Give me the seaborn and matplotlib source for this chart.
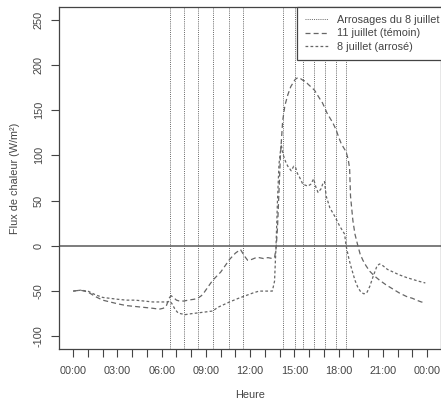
import numpy as np
import pandas as pd
import matplotlib
matplotlib.use("Agg")
import matplotlib.pyplot as plt
from matplotlib.lines import Line2D
import seaborn as sns

# ---- data (hours of day, W/m2) ----
heure_temoin = [0.0, 0.5, 1.0, 1.5, 2.0, 2.5, 3.0, 3.6, 4.2, 4.8, 5.4, 5.84, 6.1, 6.3, 6.5, 6.63, 6.8,
                7.0, 7.2, 7.5, 7.8, 8.2, 8.44, 8.7, 8.9, 9.2, 9.46, 9.7, 10.0, 10.3, 10.6, 11.0, 11.34,
                11.6, 11.83, 12.1, 12.4, 12.6, 12.9, 13.2, 13.5, 13.65, 13.76, 13.85, 13.95, 14.05, 14.2,
                14.35, 14.55, 14.75, 14.9, 15.05, 15.23, 15.4, 15.57, 15.75, 15.9, 16.1, 16.36, 16.55,
                16.7, 16.9, 17.04, 17.2, 17.38, 17.6, 17.83, 18.0, 18.17, 18.35, 18.5, 18.65, 18.74,
                18.8, 18.96, 19.1, 19.3, 19.45, 19.64, 19.85, 20.1, 20.4, 20.77, 21.2, 21.7, 22.1,
                22.6, 23.0, 23.27, 23.6, 23.87]
flux_temoin = [-50, -49, -51, -56, -60, -62, -64, -66, -67, -68, -69, -70, -69, -67, -58, -55, -57,
               -60, -61, -61, -60, -59, -58, -55, -51, -44, -38, -34, -29, -22, -15, -8, -4,
               -11, -16, -15, -13, -13, -14, -13, -14, -13, -2, 20, 60, 100, 138,
               155, 167, 176, 180, 184, 186, 185, 183, 182, 179, 176, 172, 167,
               163, 158, 153, 147, 142, 136, 128, 120, 113, 108, 104, 95, 85,
               55, 28, 13, 0, -9, -16, -22, -28, -33, -38, -43, -48, -52,
               -56, -58, -60, -62, -63]

heure_arrose = [0.0, 0.5, 1.0, 1.5, 2.0, 2.5, 3.0, 3.6, 4.2, 4.8, 5.4, 5.84, 6.2, 6.4, 6.55, 6.7, 6.9,
                7.1, 7.3, 7.6, 8.0, 8.5, 9.0, 9.46, 9.8, 10.2, 10.6, 11.2, 11.7, 12.2, 12.6, 13.0, 13.3,
                13.5, 13.65, 13.75, 13.85, 13.95, 14.1, 14.25, 14.4, 14.55, 14.78, 14.95, 15.07, 15.2,
                15.34, 15.57, 15.75, 15.9, 16.1, 16.3, 16.45, 16.6, 16.8, 16.95, 17.04, 17.15, 17.4,
                17.72, 18.06, 18.4, 18.5, 18.7, 18.85, 19.1, 19.3, 19.5, 19.7, 19.9, 20.1, 20.35, 20.6,
                20.77, 21.0, 21.3, 21.7, 22.1, 22.6, 23.0, 23.4, 23.87]
flux_arrose = [-50, -49, -50, -54, -57, -58, -59, -60, -60, -61, -62, -62, -62, -62, -61, -64, -70,
               -74, -75, -76, -75, -74, -73, -72, -68, -65, -62, -58, -55, -52, -50, -50, -50,
               -50, -39, 0, 50, 90, 112, 100, 93, 88, 83, 88, 87, 80,
               76, 68, 67, 66, 68, 74, 65, 59, 63, 70, 71, 55, 42,
               33, 22, 13, 0, -15, -24, -38, -46, -51, -53, -52, -45, -33, -22,
               -20, -22, -26, -29, -32, -35, -37, -39, -41]

arrosages = [6.57, 7.49, 8.49, 9.51, 10.53, 11.5, 14.22, 15.01, 15.58, 16.32, 17.05, 17.8, 18.52]

x_ticks_labels = ["00:00", "03:00", "06:00", "09:00", "12:00", "15:00", "18:00", "21:00", "00:00"]
y_ticks = [-100, -50, 0, 50, 100, 150, 200, 250]

sns.set_theme(style="white")
plt.rcParams['font.family'] = ['Liberation Sans', 'DejaVu Sans']

W, H = 441, 403
fig = plt.figure(figsize=(W / 100, H / 100), dpi=100)
left, right, top, bottom = 59, 441.4, 7, 349
ax = fig.add_axes([left / W, 1 - bottom / H, (right - left) / W, (bottom - top) / H])

curve_col = "#666666"
text_col = "#444444"
ax.axhline(0, color="#666666", lw=1.2, zorder=1)
for h in arrosages:
    ax.axvline(h, color="#666666", lw=0.7, linestyle=(0, (1, 1.2)), zorder=1)

df_t = pd.DataFrame({"heure": heure_temoin, "flux": flux_temoin})
df_a = pd.DataFrame({"heure": heure_arrose, "flux": flux_arrose})
sns.lineplot(data=df_t, x="heure", y="flux", ax=ax, color=curve_col, lw=0.9,
             linestyle=(0, (4, 2.5)), estimator=None, sort=False, zorder=3)
sns.lineplot(data=df_a, x="heure", y="flux", ax=ax, color=curve_col, lw=0.9,
             linestyle=(0, (2.2, 1.8)), estimator=None, sort=False, zorder=3)

ax.set_xlim(-0.96, 24.96)
ax.set_ylim(-114, 264)
ax.set_xticks(np.arange(0, 25, 3))
ax.set_xticklabels(x_ticks_labels)
ax.set_xticks(np.arange(0, 25, 1), minor=True)
ax.set_yticks(y_ticks)
ax.set_yticklabels([str(v) for v in y_ticks], rotation=90, va="center")

ax.tick_params(axis="both", which="both", direction="out", length=6, width=0.8,
               color="#444444", labelsize=7.8, labelcolor=text_col,
               bottom=True, left=True)
ax.tick_params(axis="x", which="major", pad=6)
ax.tick_params(axis="y", which="major", pad=5)
for s in ax.spines.values():
    s.set_color("#444444")
    s.set_linewidth(0.9)

ax.set_xlabel("Heure", fontsize=7.8, color=text_col, labelpad=10)
ax.set_ylabel("Flux de chaleur (W/m²)", fontsize=7.8, color=text_col, labelpad=10)

handles = [
    Line2D([], [], color="#666666", lw=0.7, linestyle=(0, (1, 1.2))),
    Line2D([], [], color=curve_col, lw=0.9, linestyle=(0, (4, 2.5))),
    Line2D([], [], color=curve_col, lw=0.9, linestyle=(0, (2.2, 1.8))),
]
labels = ["Arrosages du 8 juillet", "11 juillet (témoin)", "8 juillet (arrosé)"]
leg = ax.legend(handles, labels, loc="upper right", bbox_to_anchor=(1.016, 1.0),
                fontsize=7.8, frameon=True, fancybox=False, framealpha=1,
                edgecolor="#444444", borderpad=0.75, labelspacing=0.3,
                handlelength=2.1, handletextpad=0.85, borderaxespad=0)
leg.get_frame().set_linewidth(0.9)
for t in leg.get_texts():
    t.set_color(text_col)

fig.savefig("out.png", dpi=100)
